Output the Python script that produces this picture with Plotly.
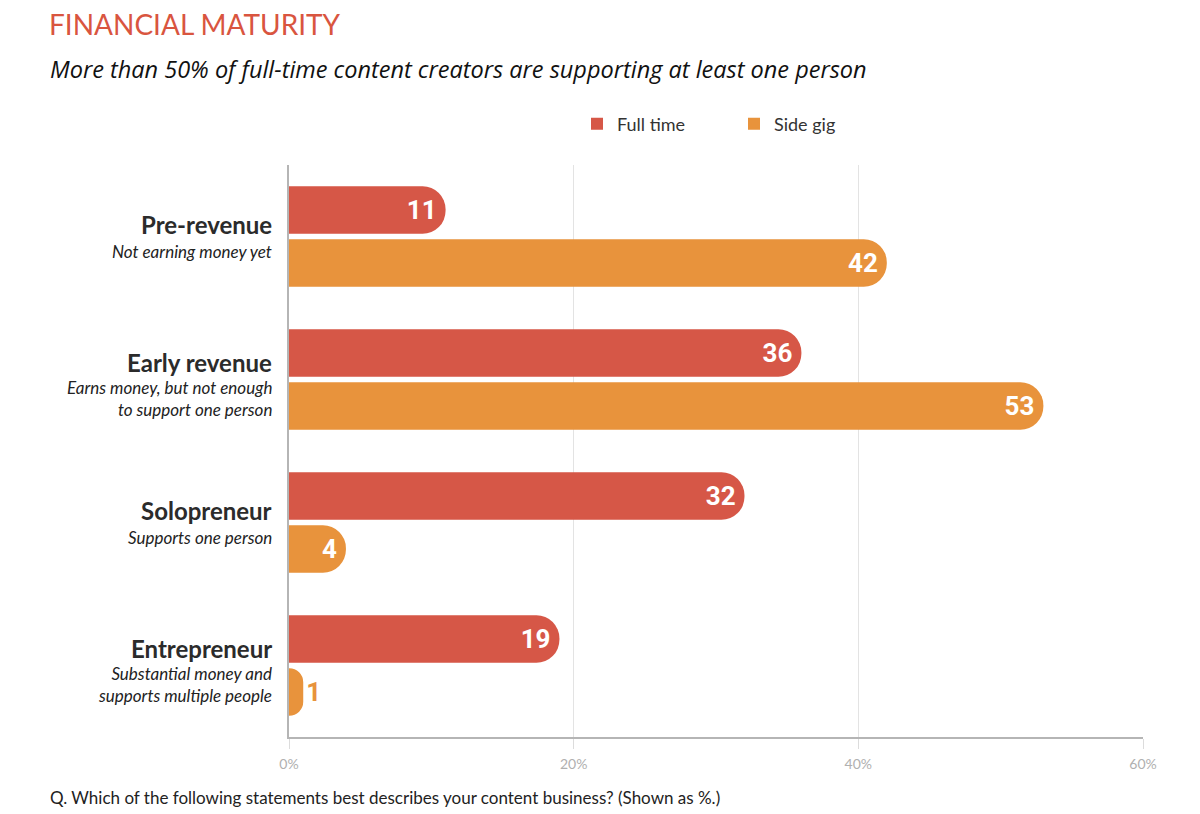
import plotly.graph_objects as go

categories = ["Pre-revenue", "Early revenue", "Solopreneur", "Entrepreneur"]
subtitles = ["Not earning money yet",
             "Earns money, but not enough<br>to support one person",
             "Supports one person",
             "Substantial money and<br>supports multiple people"]
full_time = [11, 36, 32, 19]
side_gig = [42, 53, 4, 1]
x_ticks = [0, 20, 40, 60]
x_tick_labels = ["0%", "20%", "40%", "60%"]

RED = "#D65747"
ORANGE = "#E8933C"

# page body has an 8px margin; figure coordinates are screen minus 8
OFF = 8
W, H = 1200 - OFF, 814 - OFF
L, R_EDGE, T, B_EDGE = 289 - OFF, 1143 - OFF, 165 - OFF, 737 - OFF
PW, PH = R_EDGE - L, B_EDGE - T


def px_x(sx):
    return (sx - OFF - L) / PW


def px_y(sy):
    return (B_EDGE - (sy - OFF)) / PH


def text_pos(vals):
    return ["inside" if v >= 3 else "outside" for v in vals]


def text_col(vals, c):
    return ["white" if v >= 3 else c for v in vals]


fig = go.Figure()
for name, vals, col in [("Full time", full_time, RED), ("Side gig", side_gig, ORANGE)]:
    fig.add_trace(go.Bar(
        name=name, y=categories, x=vals, orientation="h",
        marker=dict(color=col, line=dict(width=0), cornerradius="50%"),
        text=vals, textposition=text_pos(vals), insidetextanchor="end",
        textfont=dict(family="Roboto", size=26, color=text_col(vals, col), weight="bold"),
        cliponaxis=False, showlegend=False, legendgroup=name,
    ))
# legend-only entries with plain square swatches
for name, col in [("Full time", RED), ("Side gig", ORANGE)]:
    fig.add_trace(go.Scatter(
        name=name, x=[None], y=[None], mode="markers",
        marker=dict(symbol="square", size=12, color=col),
        showlegend=True, legendgroup=name,
    ))

for cat, sub in zip(categories, subtitles):
    n = sub.count("<br>") + 1
    Hb = 28 + 20 * n
    extra = -5 * (n - 1)
    fig.add_annotation(
        x=0, xref="paper", xanchor="right", xshift=-15,
        y=cat, yref="y", yanchor="top", yshift=Hb / 2 + 4 + extra + 1,
        text="<b>" + cat + "</b>", showarrow=False, align="right",
        font=dict(family="Lato", size=24, color="#2b2b2b"),
    )
    fig.add_annotation(
        x=0, xref="paper", xanchor="right", xshift=-15,
        y=cat, yref="y", yanchor="bottom", yshift=-Hb / 2 - 3 + extra,
        text="<i>" + sub + "</i>", showarrow=False, align="right",
        font=dict(family="Lato", size=17, color="#222222"),
    )

fig.add_annotation(
    text="<i>More than 50% of full-time content creators are supporting at least one person</i>",
    x=px_x(48), xref="paper", y=px_y(69), yref="paper", showarrow=False, xanchor="left",
    yanchor="middle", font=dict(family="Open Sans", size=23.5, color="#111111"),
)
fig.add_annotation(
    text="Q. Which of the following statements best describes your content business? (Shown as %.)",
    x=px_x(48), xref="paper", y=px_y(797), yref="paper", showarrow=False, xanchor="left",
    yanchor="middle", font=dict(family="Lato", size=17, color="#222222"),
)
fig.add_annotation(
    text="FINANCIAL MATURITY",
    x=px_x(47), xref="paper", y=px_y(24), yref="paper", showarrow=False, xanchor="left",
    yanchor="middle", font=dict(family="Lato", size=28, color="#D9553F"),
)

fig.update_layout(
    width=W, height=H,
    margin=dict(l=L, r=W - R_EDGE, t=T, b=H - B_EDGE),
    plot_bgcolor="white", paper_bgcolor="white",
    barmode="group", bargap=0.26, bargroupgap=0.1,
    showlegend=True,
    legend=dict(orientation="h", x=px_x(577), xanchor="left", y=px_y(124), yanchor="middle",
                font=dict(family="Lato", size=18, color="#333333"),
                entrywidth=112, entrywidthmode="pixels",
                traceorder="normal", itemwidth=30),
    xaxis=dict(range=[0, 60], tickvals=x_ticks, ticktext=x_tick_labels,
               showgrid=True, gridcolor="#e3e3e3", gridwidth=1,
               zeroline=False, showline=True, linecolor="#b5b5b5", linewidth=1.5,
               tickfont=dict(family="Lato", size=14, color="#b0b0b0"),
               ticks="outside", ticklen=10, tickcolor="#dcdcdc", tickwidth=1,
               ticklabelstandoff=3, fixedrange=True),
    yaxis=dict(autorange="reversed", showticklabels=False, showgrid=False,
               showline=True, linecolor="#b5b5b5", linewidth=1.5, zeroline=False,
               ticks=""),
)

fig.write_html("out.html")
